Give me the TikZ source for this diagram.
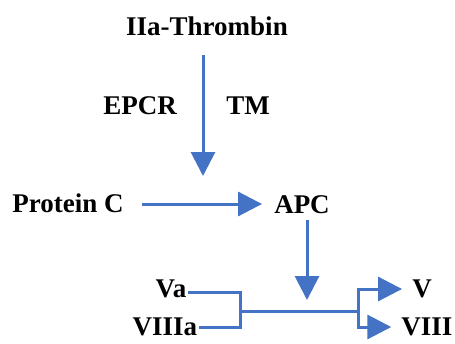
\documentclass[tikz,border=0pt]{standalone}
\usepackage{fontspec}
\setmainfont{Liberation Serif}
\usetikzlibrary{arrows.meta}
\definecolor{flowblue}{RGB}{68,114,196}
\tikzset{
  factor/.style={font=\fontsize{27}{31}\selectfont\bfseries, inner sep=2pt},
  flow/.style={draw=flowblue, line width=3pt},
  flowarrow/.style={flow, -{Triangle[length=24pt,width=24pt]}, color=flowblue}
}
\begin{document}
\begin{tikzpicture}[x=1pt,y=-1pt]
  \useasboundingbox (0,0) rectangle (455,343);

  % Name the factors
  \node[factor] (thr) at (207,26) {IIa-Thrombin};
  \node[factor] (epcr) at (140,106) {EPCR};
  \node[factor] (tm) at (248,106) {TM};
  \node[factor] (pc) at (68,203) {Protein C};
  \node[factor] (apc) at (302,205) {APC};
  \node[factor] (va) at (171,289) {Va};
  \node[factor] (viiia) at (165,327) {VIIIa};
  \node[factor] (v) at (422,289) {V};
  \node[factor] (viii) at (427,327) {VIII};

  % Free ends and junctions
  \coordinate (tipc) at (203,176);
  \coordinate (hit) at (307,300);
  \coordinate (jl) at (240,311);
  \coordinate (jr) at (358,311);

  % Activation of protein C
  \draw[flowarrow] (tipc |- 0,55) -- (tipc);
  \draw[flowarrow, shorten <=16pt, shorten >=10pt] (pc.east |- 0,204) -- (apc.west |- 0,204);
  \draw[flowarrow] (hit |- 0,220) -- (hit);

  % Inactivation of Va and VIIIa
  \draw[flow] (va.east |- 0,292) -| (jl) |- (viiia.east);
  \draw[flow] (jl) -- (jr);
  \foreach \out in {v, viii} {
    \draw[flowarrow, shorten >=8pt] (jr) |- (\out.west);
  }
\end{tikzpicture}
\end{document}
